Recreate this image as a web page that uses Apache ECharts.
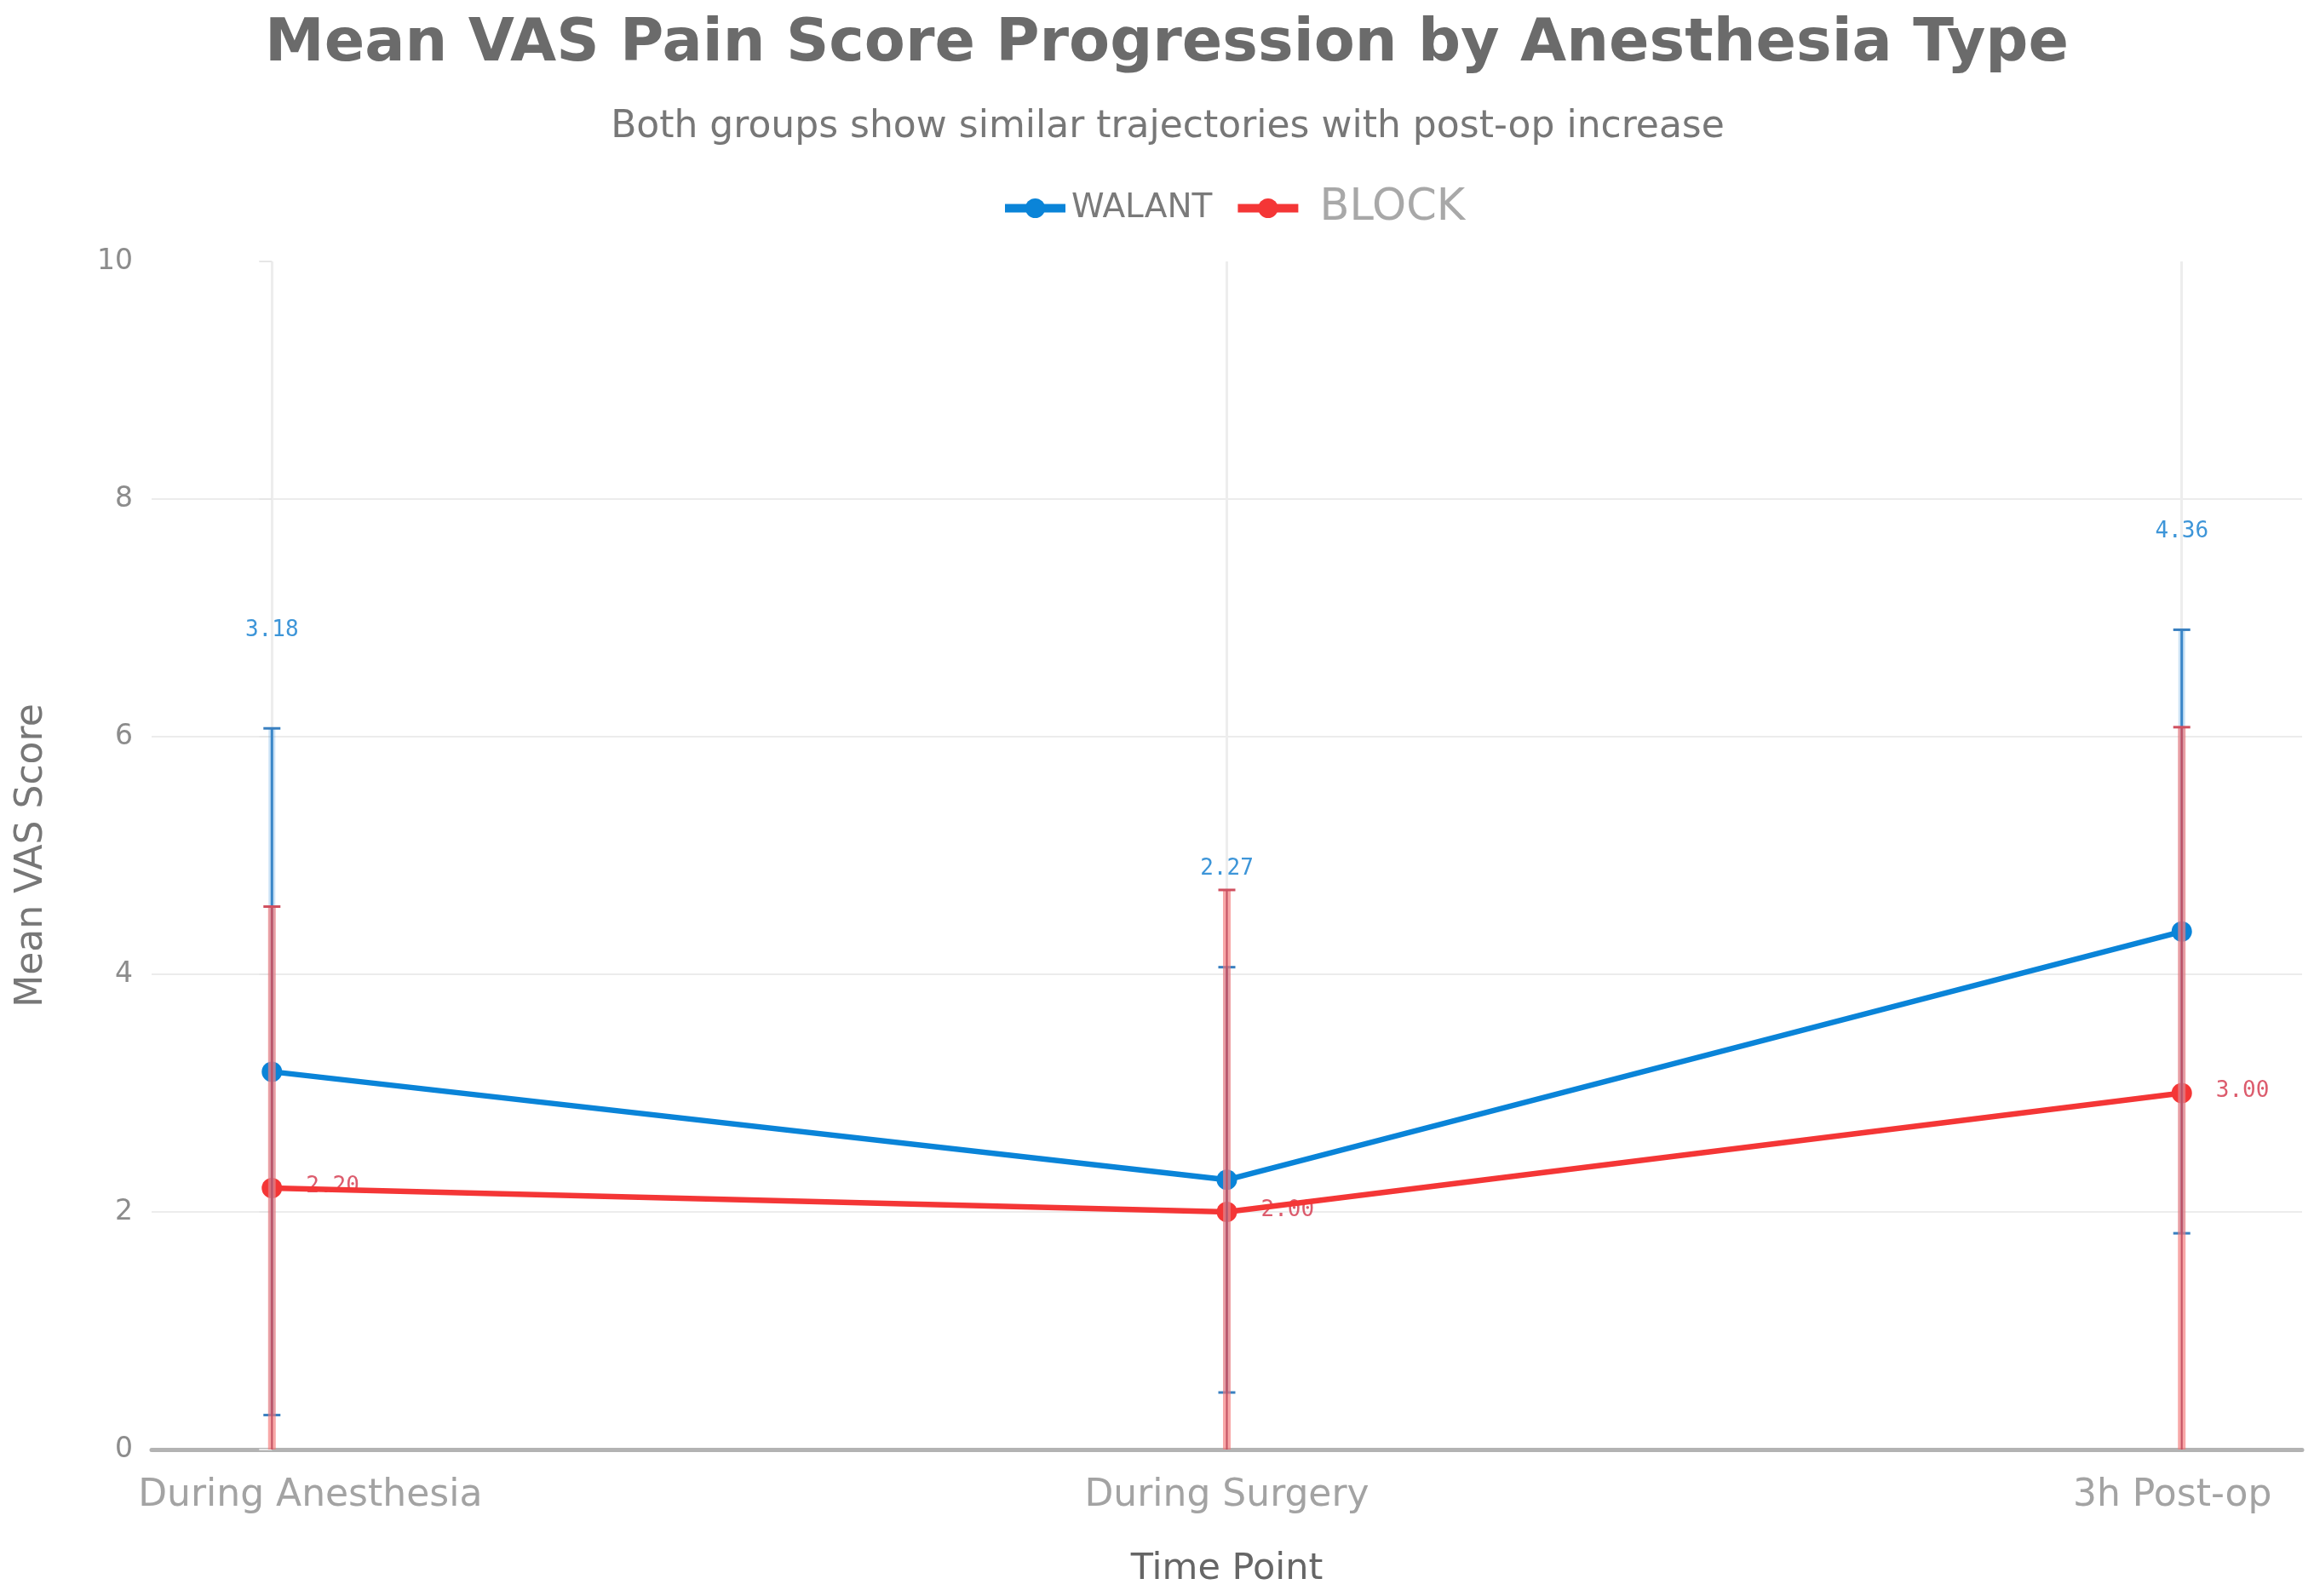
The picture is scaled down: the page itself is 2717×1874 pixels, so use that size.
<!DOCTYPE html>
<html>
<head>
<meta charset="utf-8">
<script src="https://cdn.jsdelivr.net/npm/echarts@6/dist/echarts.min.js"></script>
<style>
html,body{margin:0;padding:0;background:#fff;}
#chart{width:2717px;height:1874px;}
</style>
</head>
<body>
<div id="chart"></div>
<script>
// ---- data ----
const categories = ['During Anesthesia', 'During Surgery', '3h Post-op'];
const walantMean = [3.18, 2.27, 4.36];
const walantSD = [2.89, 1.79, 2.54];
const blockMean = [2.20, 2.00, 3.00];
const blockSD = [2.37, 2.71, 3.08];
const yTicks = [0, 2, 4, 6, 8, 10];

const BLUE = '#0a84d8';
const RED = '#f43636';

const walantLine = walantMean.map((v, i) => [i, v]);
const blockLine = blockMean.map((v, i) => [i, v]);
const walantErr = walantMean.map((v, i) => [i, v, walantSD[i]]);
const blockErr = blockMean.map((v, i) => [i, v, blockSD[i]]);

function errorBar(haloColor, haloWidth, coreColor, coreWidth, capColor) {
  return function (params, api) {
    const x = api.value(0), m = api.value(1), s = api.value(2);
    const top = api.coord([x, m + s]);
    const bot = api.coord([x, m - s]);
    const cw = 10;
    return {
      type: 'group',
      children: [
        {type: 'line', shape: {x1: top[0], y1: top[1], x2: bot[0], y2: bot[1]}, style: {stroke: haloColor, lineWidth: haloWidth}},
        {type: 'line', shape: {x1: top[0], y1: top[1], x2: bot[0], y2: bot[1]}, style: {stroke: coreColor, lineWidth: coreWidth}},
        {type: 'line', shape: {x1: top[0] - cw, y1: top[1], x2: top[0] + cw, y2: top[1]}, style: {stroke: capColor, lineWidth: 3}},
        {type: 'line', shape: {x1: bot[0] - cw, y1: bot[1], x2: bot[0] + cw, y2: bot[1]}, style: {stroke: capColor, lineWidth: 3}}
      ]
    };
  };
}

const chart = echarts.init(document.getElementById('chart'));
chart.setOption({
  backgroundColor: '#ffffff',
  animation: false,
  title: [
    {
      text: 'Mean VAS Pain Score Progression by Anesthesia Type',
      left: 1365, top: 13, textAlign: 'center',
      textStyle: {fontFamily: 'DejaVu Sans', fontWeight: 'bold', fontSize: 70, color: '#6b6b6b'}
    },
    {
      text: 'Both groups show similar trajectories with post-op increase',
      left: 1366, top: 123, textAlign: 'center',
      textStyle: {fontFamily: 'DejaVu Sans', fontWeight: 'normal', fontSize: 44, color: '#777777'}
    }
  ],
  legend: {
    left: 1170, top: 214,
    itemWidth: 71, itemHeight: 29, itemGap: 25,
    lineStyle: {width: 10},
    data: ['WALANT', 'BLOCK'],
    formatter: function (name) { return name === 'WALANT' ? '{a|WALANT}' : '{b|BLOCK}'; },
    textStyle: {
      rich: {
        a: {fontFamily: 'DejaVu Sans', fontSize: 39, color: '#7a7a7a', padding: [0, 0, 0, 2]},
        b: {fontFamily: 'DejaVu Sans', fontSize: 51, color: '#a8a8a8', padding: [0, 0, 0, 20]}
      }
    }
  },
  grid: {left: 178, right: 14, top: 307, bottom: 172, containLabel: false},
  xAxis: {
    type: 'value', min: -0.126, max: 2.126,
    name: 'Time Point', nameLocation: 'middle', nameGap: 119,
    nameTextStyle: {fontFamily: 'DejaVu Sans', fontSize: 43, color: '#666666'},
    axisLine: {show: true, onZero: false, lineStyle: {color: '#b3b3b3', width: 5}},
    axisTick: {show: false, customValues: [0, 1, 2]},
    axisLabel: {
      customValues: [0, 1, 2],
      margin: 33,
      formatter: function (v) {
        const i = Math.round(v);
        if (i === 0) return '{first|' + categories[0] + '}';
        if (i === 2) return '{last|' + categories[2] + '}';
        return '{mid|' + categories[i] + '}';
      },
      rich: {
        first: {fontFamily: 'DejaVu Sans', fontSize: 44, color: '#a3a3a3', padding: [0, 0, 0, 90]},
        mid: {fontFamily: 'DejaVu Sans', fontSize: 44, color: '#a3a3a3'},
        last: {fontFamily: 'DejaVu Sans', fontSize: 44, color: '#a3a3a3', padding: [0, 22, 8, 0]}
      }
    },
    splitLine: {show: true, lineStyle: {color: '#ededed', width: 3}}
  },
  yAxis: {
    type: 'value', min: 0, max: 10, interval: 2,
    name: 'Mean VAS Score', nameLocation: 'middle', nameGap: 118,
    nameTextStyle: {fontFamily: 'DejaVu Sans', fontSize: 44, color: '#777777'},
    axisLine: {show: false},
    axisTick: {show: true, length: 15, lineStyle: {color: '#e6e6e6', width: 2}},
    axisLabel: {
      margin: 22, fontFamily: 'DejaVu Sans', fontSize: 33, color: '#8c8c8c',
      padding: [8, 0, 0, 0],
      formatter: function (v) { return yTicks.indexOf(v) >= 0 ? String(v) : ''; }
    },
    splitLine: {show: true, showMaxLine: false, lineStyle: {color: '#ececec', width: 2}}
  },
  series: [
    {
      name: 'BLOCK labels', type: 'custom', z: 1, clip: false,
      data: blockLine,
      renderItem: function (params, api) {
        const p = api.coord([api.value(0), api.value(1)]);
        return {
          type: 'text', x: p[0] + 40, y: p[1] - 2,
          style: {
            text: api.value(1).toFixed(2), fill: 'rgba(214,64,84,0.85)',
            font: '26px "DejaVu Sans Mono"', textAlign: 'left', textVerticalAlign: 'middle'
          }
        };
      }
    },
    {
      name: 'WALANT', type: 'line', z: 2, data: walantLine,
      symbol: 'circle', symbolSize: 24,
      itemStyle: {color: BLUE}, lineStyle: {color: BLUE, width: 6.5}
    },
    {
      name: 'BLOCK', type: 'line', z: 2, data: blockLine,
      symbol: 'circle', symbolSize: 24,
      itemStyle: {color: RED}, lineStyle: {color: RED, width: 6.5}
    },
    {
      name: 'WALANT err', type: 'custom', z: 3, clip: true,
      data: walantErr,
      renderItem: errorBar('rgba(110,175,230,0.35)', 8, '#3a86c8', 3, '#3a80c0')
    },
    {
      name: 'BLOCK err', type: 'custom', z: 4, clip: true,
      data: blockErr,
      renderItem: errorBar('rgba(245,120,120,0.65)', 9, 'rgba(190,70,90,0.85)', 2, '#d05060')
    },
    {
      name: 'WALANT labels', type: 'custom', z: 5, clip: false,
      data: walantErr,
      renderItem: function (params, api) {
        const p = api.coord([api.value(0), api.value(1) + api.value(2)]);
        return {
          type: 'text', x: p[0], y: p[1] - 115,
          style: {
            text: api.value(1).toFixed(2), fill: '#3d95d8',
            font: '26px "DejaVu Sans Mono"', textAlign: 'center', textVerticalAlign: 'middle'
          }
        };
      }
    }
  ]
});
</script>
</body>
</html>
